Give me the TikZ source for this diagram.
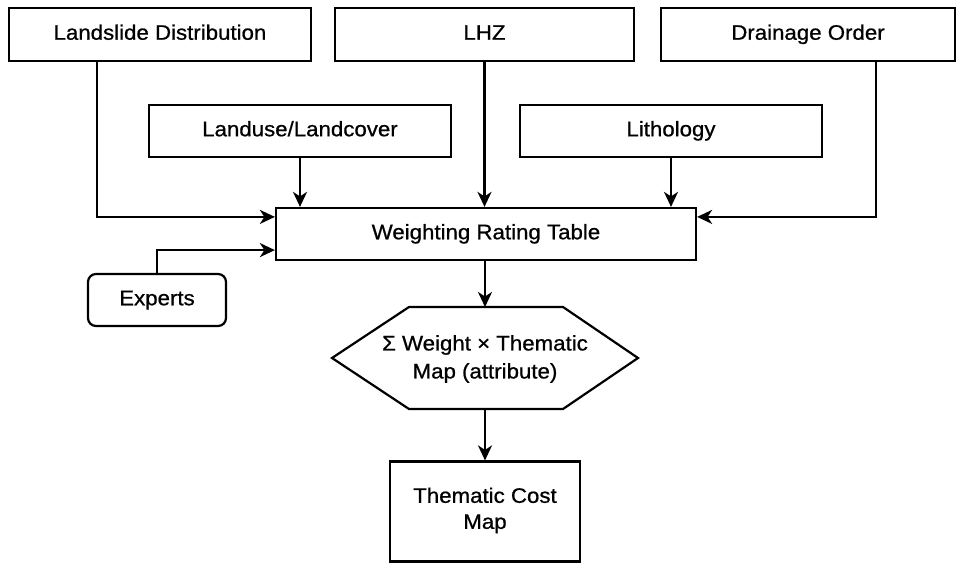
\documentclass[tikz,border=0pt]{standalone}
\usepackage{fontspec}
\setmainfont{Liberation Sans}[FakeStretch=1.06,FakeBold=0.8]
\usetikzlibrary{arrows.meta,calc}
\begin{document}
\begin{tikzpicture}[x=1pt,y=-1pt,
  box/.style={draw,line width=2.2pt,inner sep=0pt,align=center,font=\fontsize{21}{27}\selectfont},
  one/.style={text height=15pt,text depth=4.5pt},
  arr/.style={line width=2.2pt,-{Stealth[length=15pt,width=14pt,inset=4.5pt]}},
  ln/.style={line width=2.2pt}]
\useasboundingbox (0,0) rectangle (957,564);
\node[box,one,minimum width=302pt,minimum height=53pt] (ld) at (160,34.5) {Landslide Distribution};
\node[box,one,minimum width=299pt,minimum height=53pt] (lhz) at (484.5,34.5) {LHZ};
\node[box,one,minimum width=294pt,minimum height=53pt] (dr) at (808,34.5) {Drainage Order};
\node[box,one,minimum width=302pt,minimum height=52pt] (lu) at (300,131) {Landuse/Landcover};
\node[box,one,minimum width=302pt,minimum height=52pt] (li) at (671,131) {Lithology};
\node[box,one,minimum width=420pt,minimum height=52pt] (wrt) at (486,234) {Weighting Rating Table};
\node[box,one,rounded corners=8pt,minimum width=138pt,minimum height=52pt] (ex) at (157,300) {Experts};
\draw[ln,line join=miter] (332,358) -- (409,307) -- (563,307) -- (638,358) -- (563,409) -- (409,409) -- cycle;
\coordinate (hxtop) at (485,307);
\coordinate (hxbot) at (485,409);
\node[align=center,inner sep=0pt,font=\fontsize{21}{28}\selectfont] (hx) at (485,359) {Σ Weight × Thematic\\Map (attribute)};
\node[box,minimum width=190pt,minimum height=100pt,text height=39pt,font=\fontsize{21}{26}\selectfont] (tcm) at (485,511.5) {Thematic Cost\\Map};
\draw[arr] ([xshift=89pt]ld.south west) |- ([yshift=-10pt]wrt.north west);
\draw[arr] (ex.north) |- ([yshift=11pt]wrt.south west);
\draw[arr] (lu.south) -- (lu.south |- wrt.north);
\draw[arr] (lhz.south) -- (lhz.south |- wrt.north);
\draw[arr] (li.south) -- (li.south |- wrt.north);
\draw[arr] ([xshift=216pt]dr.south west) |- ([yshift=-10pt]wrt.north east);
\draw[arr] (wrt.south -| hxtop) -- (hxtop);
\draw[arr] (hxbot) -- (tcm.north);
\end{tikzpicture}
\end{document}
